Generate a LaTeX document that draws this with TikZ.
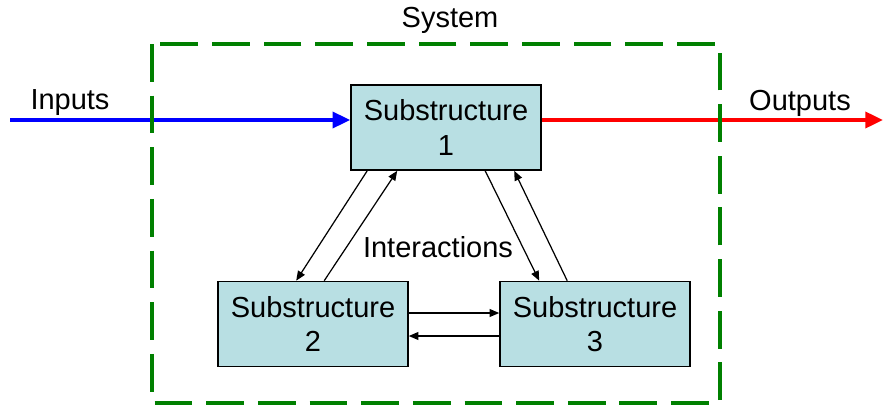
\documentclass[tikz,border=0pt]{standalone}
\usepackage{fontspec}
\setmainfont{Liberation Sans}
\usetikzlibrary{arrows.meta}
\definecolor{boxfill}{RGB}{184,223,227}
\definecolor{sysgreen}{RGB}{0,128,0}
\tikzset{
	subbox/.style={draw=black, line width=0.9pt, fill=boxfill, minimum width=3.8cm, minimum height=1.7cm,
		align=center, inner sep=0pt, font=\fontsize{16.5}{19.5}\selectfont},
	link/.style={line width=0.7pt, -{Triangle[length=5.5pt,width=4.5pt]}},
	flow/.style={line width=2.2pt, -{Triangle[length=10pt,width=9pt]}},
	lbl/.style={font=\fontsize{16.5}{20}\selectfont, inner sep=0pt}
}
\begin{document}
\begin{tikzpicture}[x=0.02cm,y=-0.02cm]
			\useasboundingbox (0,0) rectangle (883,406);
			% substructures
			\node[subbox] (s1) at (446,127.5) {Substructure\\1};
			\node[subbox] (s2) at (313,324) {Substructure\\2};
			\node[subbox] (s3) at (595,324) {Substructure\\3};
			\coordinate (in) at (10,120);
			\coordinate (out) at (883,120);
			% inputs and outputs
			\draw[flow, blue] (in) -- (in -| s1.west);
			\draw[flow, red] (out -| s1.east) -- (out);
			\node[lbl] (inlbl) at (70,103) {Inputs};
			\node[lbl] (outlbl) at (800,103) {Outputs};
			% interactions
			\draw[link] ([xshift=0.34cm]s1.south west) -- ([xshift=1.58cm]s2.north west);
			\draw[link] ([xshift=2.14cm]s2.north west) -- ([xshift=0.94cm]s1.south west);
			\draw[link] ([xshift=2.7cm]s1.south west) -- ([xshift=0.8cm]s3.north west);
			\draw[link] ([xshift=1.36cm]s3.north west) -- ([xshift=3.28cm]s1.south west);
			\draw[link] ([yshift=0.22cm]s2.east) -- ([yshift=0.22cm]s3.west);
			\draw[link] ([yshift=-0.24cm]s3.west) -- ([yshift=-0.24cm]s2.east);
			\node[lbl] (inter) at (438,247) {Interactions};
			% system boundary
			\draw[sysgreen, line width=2.5pt, dash pattern=on 21.5pt off 7.9pt] (152,44) rectangle (720,403);
			\node[lbl] (sys) at (450,20) {System};
		\end{tikzpicture}
\end{document}
